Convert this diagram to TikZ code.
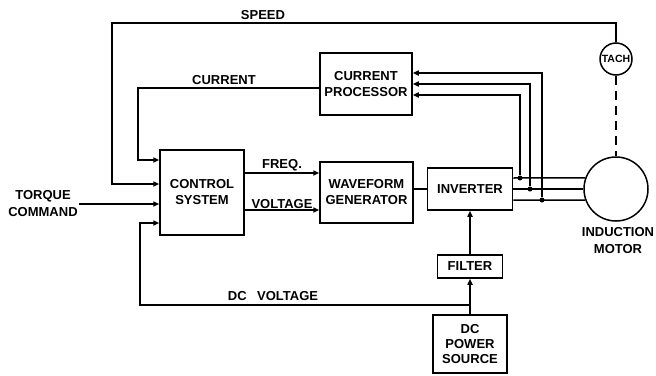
\documentclass[tikz,border=0pt]{standalone}
\usepackage{fontspec}
\setmainfont{Liberation Sans}
\usepackage{tikz}
\usetikzlibrary{arrows.meta,positioning}

\begin{document}
\begin{tikzpicture}[
  x=1pt, y=-1pt,
  >={Triangle[length=6pt,width=5pt]},
  line width=1.5pt,
  block/.style={draw, align=center, inner sep=0pt, font=\bfseries\fontsize{13}{16}\selectfont},
  lbl/.style={inner sep=1pt, align=center, font=\bfseries\fontsize{13}{17}\selectfont},
  dot/.style={circle, fill, inner sep=0pt, minimum size=5pt}
]
\useasboundingbox (0,0) rectangle (656,375);
% blocks
\node[block, minimum width=84pt, minimum height=85pt] (ctrl) at (202,192.5) {CONTROL\\SYSTEM};
\node[block, minimum width=93pt, minimum height=61pt] (wave) at (366.5,192.5) {WAVEFORM\\GENERATOR};
\node[block, minimum width=92pt, minimum height=62pt] (proc) at (366,84) {CURRENT\\PROCESSOR};
\node[block, minimum width=85pt, minimum height=42pt] (inv) at (470,189) {INVERTER};
\node[block, minimum width=65pt, minimum height=23pt] (filt) at (470,266.5) {FILTER};
\node[block, minimum width=74pt, minimum height=58pt, font=\bfseries\fontsize{13}{15}\selectfont] (dcps) at (470,344) {DC\\POWER\\SOURCE};
\node[draw, circle, minimum size=64pt] (motor) at (616,189) {};
\node[draw, circle, minimum size=32pt, inner sep=0pt, font=\bfseries\fontsize{10.5}{12}\selectfont] (tach) at (616,59) {TACH};
% labels
\node[lbl] (torq) at (43,204) {TORQUE\\COMMAND};
\node[lbl] (motlbl) at (618,241) {INDUCTION\\MOTOR};
\node[lbl] (spdlbl) at (263,15) {SPEED};
\node[lbl] (curlbl) at (224,80) {CURRENT};
\node[lbl] (dcvlbl) at (273,296) {DC\hspace{0.8em}VOLTAGE};
% bends and junctions
\coordinate (spd) at (112,23);
\coordinate (cur) at (138,88);
\coordinate (dcv) at (140,305);
\node[dot] (ja) at (520,178) {};
\node[dot] (jb) at (530,189) {};
\node[dot] (jc) at (542,200) {};
% connectors
\draw[->] (torq.east) -- (torq.east -| ctrl.west);
\draw[->] (tach.north) |- (spd) |- ([yshift=8.5pt]ctrl.west);
\draw[->] ([yshift=-4pt]proc.west) -- (cur) |- ([yshift=32.5pt]ctrl.west);
\draw[->] (filt.south |- dcv) -- (dcv) |- ([yshift=-30.5pt]ctrl.west);
\draw[->] ([yshift=19.5pt]ctrl.east) -- node[lbl, above] {FREQ.} ([yshift=19.5pt]wave.west);
\draw[->] ([yshift=-17.5pt]ctrl.east) -- node[lbl, above] {VOLTAGE} ([yshift=-17.5pt]wave.west);
\draw (wave.east |- inv.west) -- (inv.west);
\draw[->] (dcps.north) -- (filt.south);
\draw[->] (filt.north) -- (inv.south);
\draw ([yshift=11pt]inv.east) -- (motor.160);
\draw (inv.east) -- (motor.west);
\draw ([yshift=-11pt]inv.east) -- (motor.200);
\draw[->] (jc) |- ([yshift=11pt]proc.east);
\draw[->] (jb) |- (proc.east);
\draw[->] (ja) |- ([yshift=-11pt]proc.east);
\draw[dashed, dash pattern=on 9pt off 6pt] (tach.south) -- (motor.north);
\end{tikzpicture}
\end{document}
